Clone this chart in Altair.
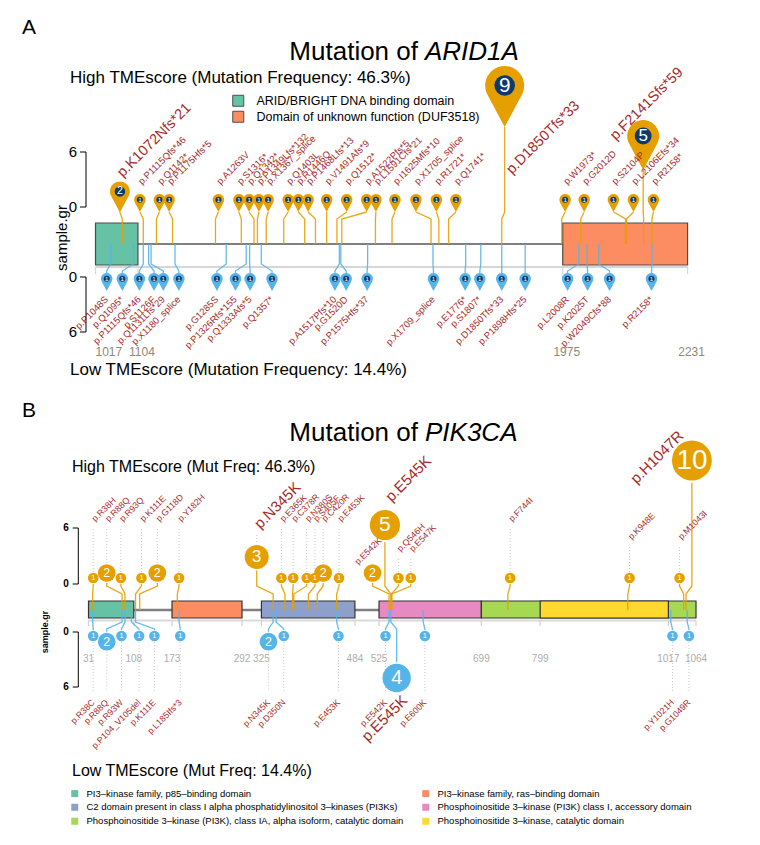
import math
import altair as alt
import pandas as pd

FONT = "Liberation Sans"
RED = "#A52A2A"
ORANGE = "#E69F00"
BLUE = "#56B4E9"
NAVY = "#0C3A6C"
PIN = "M0,1L-0.5647,-0.0588A0.64,0.64,0,1,1,0.5647,-0.0588Z"
W = 744

# ================= ARID1A data =================
a_domain_names = ["ARID/BRIGHT DNA binding domain", "Domain of unknown function (DUF3518)"]
a_domain_start = [1017, 1975]
a_domain_end = [1104, 2231]
a_domain_colors = ["#66C2A5", "#FC8D62"]
a_ruler_ticks = [1017, 1104, 1975, 2231]

a_up_labels = ["p.K1072Nfs*21", "p.P1115Qfs*46", "p.Q1142*", "p.P1175Hfs*5", "p.A1263V", "p.S1316*",
               "p.Q1342*", "p.P1349Lfs*132", "p.X1367_splice", "p.Q1403L", "p.R1446Q", "p.P1468Lfs*13",
               "p.V1491Afs*9", "p.Q1512*", "p.A1522Pfs*5", "p.L1591Cfs*21", "p.I1625Mfs*10",
               "p.X1705_splice", "p.R1721*", "p.Q1741*", "p.D1850Tfs*33", "p.W1973*", "p.G2012D",
               "p.S2104P", "p.L2106Efs*34", "p.F2141Sfs*59", "p.R2158*"]
a_up_pos = [1072, 1115, 1142, 1175, 1263, 1316, 1342, 1349, 1367, 1403, 1446, 1468, 1491, 1512, 1522,
            1591, 1625, 1705, 1721, 1741, 1850, 1973, 2012, 2104, 2106, 2141, 2158]
a_up_head = [1067, 1108, 1148, 1168, 1269, 1311, 1332, 1352, 1371, 1412, 1433, 1453, 1491, 1532, 1573,
             1592, 1631, 1674, 1716, 1756, 1856, 1980, 2019, 2079, 2120, 2140, 2161]
a_up_count = [2, 1, 1, 1, 1, 1, 1, 1, 1, 1, 1, 1, 1, 1, 1, 1, 1, 1, 1, 1, 9, 1, 1, 1, 1, 5, 1]

a_dn_labels = ["p.P1048S", "p.Q1095*", "p.P1115Qfs*46", "p.S1126F", "p.Q1131Lfs*29", "p.X1180_splice",
               "p.G1285S", "p.P1326Rfs*155", "p.Q1333Afs*5", "p.Q1357*", "p.A1517Pfs*10", "p.G1520D",
               "p.P1575Hfs*37", "p.X1709_splice", "p.E1776*", "p.S1807*", "p.D1850Tfs*33",
               "p.P1898Hfs*25", "p.L2008R", "p.K2025T", "p.W2049Cfs*88", "p.R2158*"]
a_dn_pos = [1048, 1095, 1115, 1126, 1131, 1180, 1285, 1326, 1333, 1357, 1517, 1520, 1575, 1709, 1776,
            1807, 1850, 1898, 2008, 2025, 2049, 2158]
a_dn_head = [1040, 1072, 1107, 1137, 1156, 1188, 1266, 1304, 1334, 1379, 1508, 1531, 1574, 1710, 1775,
             1805, 1850, 1898, 1985, 2026, 2071, 2157]
a_dn_count = [1, 1, 1, 1, 1, 1, 1, 1, 1, 1, 1, 1, 1, 1, 1, 1, 1, 1, 1, 1, 1, 1]

# ================= PIK3CA data =================
b_domain_names = ["PI3–kinase family, p85–binding domain",
                  "PI3–kinase family, ras–binding domain",
                  "C2 domain present in class I alpha phosphatidylinositol 3–kinases (PI3Ks)",
                  "Phosphoinositide 3–kinase (PI3K) class I, accessory domain",
                  "Phosphoinositide 3–kinase (PI3K), class IA, alpha isoform, catalytic domain",
                  "Phosphoinositide 3–kinase, catalytic domain"]
b_domain_start = [31, 173, 325, 525, 699, 799]
b_domain_end = [108, 292, 484, 699, 1064, 1017]
b_domain_colors = ["#66C2A5", "#FC8D62", "#8DA0CB", "#E78AC3", "#A6D854", "#FFD92F"]
b_ruler_ticks = [31, 108, 173, 292, 325, 484, 525, 699, 799, 1017, 1064]

b_up_labels = ["p.R38H", "p.R88Q", "p.R93Q", "p.K111E", "p.G118D", "p.Y182H", "p.N345K", "p.E365K",
               "p.C378R", "p.N380S", "p.S405F", "p.C420R", "p.E453K", "p.E542K", "p.E545K", "p.Q546H",
               "p.E547K", "p.F744I", "p.K948E", "p.M1043I", "p.H1047R"]
b_up_pos = [38, 88, 93, 111, 118, 182, 345, 365, 378, 380, 405, 420, 453, 542, 545, 546, 547, 744, 948,
            1043, 1047]
b_up_head = [39, 62, 86, 121, 148, 185, 317, 359, 379, 402, 416, 430, 457, 514, 535, 558, 579, 748, 951,
             1036, 1057]
b_up_count = [1, 2, 1, 1, 2, 1, 3, 1, 1, 1, 1, 2, 1, 2, 5, 1, 1, 1, 1, 1, 10]

b_dn_labels = ["p.R38C", "p.R88Q", "p.R93W", "p.P104_V105del", "p.K111E", "p.L185Ifs*3", "p.N345K",
               "p.D350N", "p.E453K", "p.E542K", "p.E545K", "p.E600K", "p.Y1021H", "p.G1049R"]
b_dn_pos = [38, 88, 93, 104, 111, 185, 345, 350, 453, 542, 545, 600, 1021, 1049]
b_dn_head = [39, 62, 87, 117, 143, 187, 337, 363, 456, 536, 555, 603, 1024, 1052]
b_dn_count = [1, 2, 1, 1, 1, 1, 2, 1, 1, 1, 4, 1, 1, 1]

# ================= layout (page pixel coordinates) =================
A_TOP, A_BOT = 8, 400
B_TOP, B_BOT = 400, 837
XA = alt.Scale(domain=[837.6, 2363.1], nice=False, zero=False)
YA = alt.Scale(domain=[A_BOT, A_TOP], nice=False, zero=False)
XB = alt.Scale(domain=[-105.9, 1159.2], nice=False, zero=False)
YB = alt.Scale(domain=[B_BOT, B_TOP], nice=False, zero=False)

A_TIP = {1: 212, 2: 212.5, 5: 170, 9: 127}
A_PIN = {1: 18, 2: 31, 5: 50, 9: 61}
A_UP_LABEL_AT = {"p.K1072Nfs*21": (1067, 175), "p.D1850Tfs*33": (1865, 172), "p.F2141Sfs*59": (2078, 138)}

B_D = {1: 12, 2: 20, 3: 27, 4: 32, 5: 34, 10: 45}
B_UP_CY = {1: 578, 2: 573, 3: 557, 5: 525, 10: 460.5}
B_DN_CY = {1: 636, 2: 641.7, 4: 678}
B_UP_LABEL_AT = {"p.N345K": (None, 526), "p.E542K": (486, 563), "p.E545K": (540, 499),
                 "p.Q546H": (None, 550), "p.E547K": (None, 550), "p.K948E": (None, 538),
                 "p.M1043I": (None, 538), "p.H1047R": (957, 481)}
B_DN_LABEL_AT = {"p.E545K": (569, 698)}

ONE = pd.DataFrame({"k": [0]})


def ftext(top, x, y, text, size, **kw):
    kw.setdefault("font", FONT)
    return alt.Chart(ONE).mark_text(text=text, fontSize=size, **kw).encode(
        x=alt.value(x - 8), y=alt.value(y - top))


def frule(top, x1, y1, x2, y2, color="black", width=1.0):
    return alt.Chart(ONE).mark_rule(color=color, strokeWidth=width).encode(
        x=alt.value(x1 - 8), x2=alt.value(x2 - 8), y=alt.value(y1 - top), y2=alt.value(y2 - top))


def XY(xs, ys, xf="x", yf="y"):
    return dict(x=alt.X(f"{xf}:Q", scale=xs, axis=None), y=alt.Y(f"{yf}:Q", scale=ys, axis=None))


def sticks(xs, ys, rows, color, width=1.3, opacity=0.9):
    df = pd.DataFrame(rows, columns=["id", "seq", "x", "y"])
    return alt.Chart(df).mark_line(color=color, strokeWidth=width, opacity=opacity).encode(
        detail="id:N", order="seq:Q", **XY(xs, ys))


def domains(names, starts, ends, colors, xs, ys, y1, y2, stroke, legend):
    df = pd.DataFrame({"name": names, "start": starts, "end": ends})
    df["y1"] = y1
    df["y2"] = y2
    return alt.Chart(df).mark_rect(stroke=stroke, strokeWidth=1.2).encode(
        x=alt.X("start:Q", scale=xs, axis=None), x2="end:Q",
        y=alt.Y("y1:Q", scale=ys, axis=None), y2="y2:Q",
        color=alt.Color("name:N", scale=alt.Scale(domain=names, range=colors), legend=legend))


def hline(xs, ys, x1, x2, y, color, width):
    df = pd.DataFrame({"x": [x1], "x2": [x2], "y": [y]})
    return alt.Chart(df).mark_rule(color=color, strokeWidth=width).encode(x2="x2:Q", **XY(xs, ys))


def vticks(xs, ys, xsv, y1, y2, color, width):
    df = pd.DataFrame({"x": xsv})
    df["y"] = y1
    df["y2"] = y2
    return alt.Chart(df).mark_rule(color=color, strokeWidth=width).encode(y2="y2:Q", **XY(xs, ys))


# ================= Panel A =================
up = pd.DataFrame({"label": a_up_labels, "pos": a_up_pos, "x": a_up_head, "count": a_up_count})
up["s"] = up["count"].map(A_PIN)
up["tip"] = up["count"].map(A_TIP)
up["ay"] = up["tip"] - up["s"] / 2
up["sz"] = up["s"] ** 2
up["cy"] = up["tip"] - 0.68 * up["s"]
up["csz"] = math.pi / 4 * (0.38 * up["s"]) ** 2
up["fs"] = 0.34 * up["s"]
up["n"] = up["count"].astype(str)
up["lx"] = [A_UP_LABEL_AT.get(l, (h, 183))[0] for l, h in zip(up["label"], up["x"])]
up["ly"] = [A_UP_LABEL_AT.get(l, (h, 183))[1] for l, h in zip(up["label"], up["x"])]
up["lfs"] = [14.5 if c >= 2 else 9.5 for c in up["count"]]

dn = pd.DataFrame({"label": a_dn_labels, "pos": a_dn_pos, "x": a_dn_head, "count": a_dn_count})
dn["s"] = dn["count"].map(A_PIN)
dn["ay"] = 273 + dn["s"] / 2
dn["sz"] = dn["s"] ** 2
dn["cy"] = dn["ay"] - 0.18 * dn["s"]
dn["csz"] = math.pi / 4 * (0.38 * dn["s"]) ** 2
dn["fs"] = 0.34 * dn["s"]
dn["n"] = dn["count"].astype(str)
dn["lx"] = dn["x"]
dn["ly"] = 298
dn["lfs"] = 9.5

a_up_rows = []
for i, r in up.iterrows():
    for k, (xx, yy) in enumerate([(r.pos, 244), (r.pos, 219), (r.x, 212), (r.x, r.tip)]):
        a_up_rows.append((i, k, xx, yy))
a_dn_rows = []
for i, r in dn.iterrows():
    for k, (xx, yy) in enumerate([(r.pos, 244), (r.pos, 264), (r.x, 271), (r.x, 273)]):
        a_dn_rows.append((i, k, xx, yy))


def pin_layers(df, xs, ys, color):
    pins = alt.Chart(df).mark_point(shape=PIN, filled=True, opacity=1, color=color, strokeWidth=0).encode(
        size=alt.Size("sz:Q", scale=None), **XY(xs, ys, "x", "ay"))
    inner = alt.Chart(df).mark_circle(color=NAVY, opacity=1).encode(
        size=alt.Size("csz:Q", scale=None), **XY(xs, ys, "x", "cy"))
    nums = alt.Chart(df).mark_text(color="white", font=FONT, baseline="middle").encode(
        text="n:N", size=alt.Size("fs:Q", scale=None), **XY(xs, ys, "x", "cy"))
    return [pins, inner, nums]


def label_layer(df, xs, ys, align):
    return alt.Chart(df).mark_text(color=RED, font=FONT, angle=315, align=align, baseline="middle").encode(
        text="label:N", size=alt.Size("lfs:Q", scale=None), **XY(xs, ys, "lx", "ly"))


a_legend = alt.Legend(orient="none", legendX=224, legendY=86.5, title=None, symbolType="square",
                      symbolSize=121, symbolStrokeColor="#4D4D4D", symbolStrokeWidth=1,
                      labelFont=FONT, labelFontSize=12.5, labelOffset=12, rowPadding=0,
                      padding=0, labelLimit=600, labelColor="black")

a_tick_df = pd.DataFrame({"x": a_ruler_ticks, "t": [str(v) for v in a_ruler_ticks]})
a_tick_df["y"] = 352
a_tick_first = alt.Chart(a_tick_df.iloc[:1]).mark_text(font=FONT, fontSize=12, color="#938577", align="left").encode(
    text="t:N", **XY(XA, YA))
a_tick_rest = alt.Chart(a_tick_df.iloc[1:]).mark_text(font=FONT, fontSize=12, color="#938577", dx=4).encode(
    text="t:N", **XY(XA, YA))

panelA_layers = [
    hline(XA, YA, 1017, 2231, 244, "black", 1),
    hline(XA, YA, 1017, 2231, 267, "#D6D6D6", 2),
    vticks(XA, YA, a_ruler_ticks, 267, 274, "#D6D6D6", 1.2),
    a_tick_first, a_tick_rest,
    domains(a_domain_names, a_domain_start, a_domain_end, a_domain_colors, XA, YA, 223, 265, "#4D4D4D", a_legend),
    sticks(XA, YA, a_up_rows, ORANGE),
    sticks(XA, YA, a_dn_rows, BLUE),
    *pin_layers(dn, XA, YA, BLUE),
    *pin_layers(up, XA, YA, ORANGE),
    label_layer(up, XA, YA, "left"),
    label_layer(dn, XA, YA, "right"),
    ftext(A_TOP, 29, 28, "A", 21),
    ftext(A_TOP, 418, 52, "Mutation of", 26, align="right"),
    ftext(A_TOP, 425, 52, "ARID1A", 26, align="left", fontStyle="italic"),
    ftext(A_TOP, 70, 78, "High TMEscore (Mutation Frequency: 46.3%)", 17, align="left"),
    ftext(A_TOP, 70, 370, "Low TMEscore (Mutation Frequency: 14.4%)", 17, align="left"),
    ftext(A_TOP, 62, 238, "sample.gr", 15, angle=270),
    ftext(A_TOP, 73, 152, "6", 15), ftext(A_TOP, 73, 207, "0", 15),
    ftext(A_TOP, 73, 277, "0", 15), ftext(A_TOP, 73, 332, "6", 15),
    frule(A_TOP, 86, 152, 86, 207), frule(A_TOP, 80, 152, 86, 152), frule(A_TOP, 80, 207, 86, 207),
    frule(A_TOP, 86, 277, 86, 332), frule(A_TOP, 80, 277, 86, 277), frule(A_TOP, 80, 332, 86, 332),
]
panelA = alt.layer(*panelA_layers).properties(width=W, height=A_BOT - A_TOP)

# ================= Panel B =================
bu = pd.DataFrame({"label": b_up_labels, "pos": b_up_pos, "x": b_up_head, "count": b_up_count})
bu["d"] = bu["count"].map(B_D)
bu["cy"] = bu["count"].map(B_UP_CY)
bu["sz"] = math.pi / 4 * bu["d"] ** 2
bu["fs"] = 0.62 * bu["d"]
bu["n"] = bu["count"].astype(str)
lxs, lys = [], []
for l, h in zip(bu["label"], bu["x"]):
    ox, oy = B_UP_LABEL_AT.get(l, (None, 520))
    lxs.append(h if ox is None else ox)
    lys.append(oy)
bu["lx"] = lxs
bu["ly"] = lys
bu["lfs"] = [15 if c >= 3 else 8.8 for c in bu["count"]]

bd = pd.DataFrame({"label": b_dn_labels, "pos": b_dn_pos, "x": b_dn_head, "count": b_dn_count})
bd["d"] = bd["count"].map(B_D)
bd["cy"] = bd["count"].map(B_DN_CY)
bd["sz"] = math.pi / 4 * bd["d"] ** 2
bd["fs"] = 0.62 * bd["d"]
bd["n"] = bd["count"].astype(str)
lxs, lys = [], []
for l, h in zip(bd["label"], bd["x"]):
    ox, oy = B_DN_LABEL_AT.get(l, (None, 701))
    lxs.append(h if ox is None else ox)
    lys.append(oy)
bd["lx"] = lxs
bd["ly"] = lys
bd["lfs"] = [15 if c >= 3 else 8.8 for c in bd["count"]]

b_up_rows, b_dn_rows = [], []
for i, r in bu.iterrows():
    for k, (xx, yy) in enumerate([(r.pos, 610), (r.pos, 594), (r.x, 586), (r.x, r.cy + r.d / 2)]):
        b_up_rows.append((i, k, xx, yy))
for i, r in bd.iterrows():
    for k, (xx, yy) in enumerate([(r.pos, 610), (r.pos, 622), (r.x, 629), (r.x, r.cy - r.d / 2)]):
        b_dn_rows.append((i, k, xx, yy))

dots = []
for r in bu.itertuples():
    if r.lx == r.x and (r.cy - r.d / 2) > r.ly + 9:
        dots.append((r.x, r.ly + 9, r.cy - r.d / 2))
for r in bd.itertuples():
    if r.lx == r.x and (r.cy + r.d / 2) < r.ly - 10:
        dots.append((r.x, r.cy + r.d / 2, r.ly - 10))
dots_df = pd.DataFrame(dots, columns=["x", "y", "y2"])
dot_layer = alt.Chart(dots_df).mark_rule(color="#BDBDBD", strokeWidth=0.8, strokeDash=[1, 2]).encode(
    y2="y2:Q", **XY(XB, YB))


def circle_layers(df, xs, ys, color):
    circ = alt.Chart(df).mark_circle(color=color, opacity=1).encode(
        size=alt.Size("sz:Q", scale=None), **XY(xs, ys, "x", "cy"))
    nums = alt.Chart(df).mark_text(color="white", font=FONT, baseline="middle").encode(
        text="n:N", size=alt.Size("fs:Q", scale=None), **XY(xs, ys, "x", "cy"))
    return [circ, nums]


b_legend = alt.Legend(orient="none", legendX=62, legendY=388.5, title=None, symbolType="square",
                      symbolSize=49, symbolStrokeWidth=0, columns=2, direction="horizontal",
                      columnPadding=17, labelFont=FONT, labelFontSize=9.5, labelOffset=7, rowPadding=3,
                      padding=0, labelLimit=600, labelColor="black")

b_tick_df = pd.DataFrame({"x": b_ruler_ticks, "t": [str(v) for v in b_ruler_ticks]})
b_tick_df["y"] = 659

panelB_layers = [
    hline(XB, YB, 31, 1064, 610, "#7F7F7F", 2.5),
    hline(XB, YB, 31, 1064, 620.5, "#D9D9D9", 2),
    vticks(XB, YB, b_ruler_ticks, 620.5, 626, "#D0D0D0", 1.2),
    alt.Chart(b_tick_df).mark_text(font=FONT, fontSize=10, color="#ADADAD").encode(text="t:N", **XY(XB, YB)),
    dot_layer,
    domains(b_domain_names, b_domain_start, b_domain_end, b_domain_colors, XB, YB, 601, 618, "#333333", b_legend),
    sticks(XB, YB, b_up_rows, ORANGE),
    sticks(XB, YB, b_dn_rows, BLUE),
    *circle_layers(bd, XB, YB, BLUE),
    *circle_layers(bu, XB, YB, ORANGE),
    label_layer(bu, XB, YB, "left"),
    label_layer(bd, XB, YB, "right"),
    ftext(B_TOP, 29, 411, "B", 21),
    ftext(B_TOP, 418, 433, "Mutation of", 26, align="right"),
    ftext(B_TOP, 425, 433, "PIK3CA", 26, align="left", fontStyle="italic"),
    ftext(B_TOP, 72, 467, "High TMEscore (Mut Freq: 46.3%)", 16, align="left"),
    ftext(B_TOP, 72, 771, "Low TMEscore (Mut Freq: 14.4%)", 16, align="left"),
    ftext(B_TOP, 45, 632, "sample.gr", 9, angle=270, fontWeight="bold"),
    ftext(B_TOP, 66, 528, "6", 10, fontWeight="bold"), ftext(B_TOP, 66, 584, "0", 10, fontWeight="bold"),
    ftext(B_TOP, 66, 632, "0", 10, fontWeight="bold"), ftext(B_TOP, 66, 687, "6", 10, fontWeight="bold"),
    frule(B_TOP, 78.3, 528, 78.3, 584), frule(B_TOP, 72.7, 528, 78.3, 528), frule(B_TOP, 72.7, 584, 78.3, 584),
    frule(B_TOP, 78.3, 632, 78.3, 687), frule(B_TOP, 72.7, 632, 78.3, 632), frule(B_TOP, 72.7, 687, 78.3, 687),
]
panelB = alt.layer(*panelB_layers).properties(width=W, height=B_BOT - B_TOP)

chart = (alt.vconcat(panelA, panelB, spacing=0)
         .resolve_scale(color="independent")
         .properties(padding=0)
         .configure(font=FONT)
         .configure_view(strokeWidth=0, stroke="transparent"))

chart.save("out.html", embed_options={"renderer": "svg", "actions": False})
